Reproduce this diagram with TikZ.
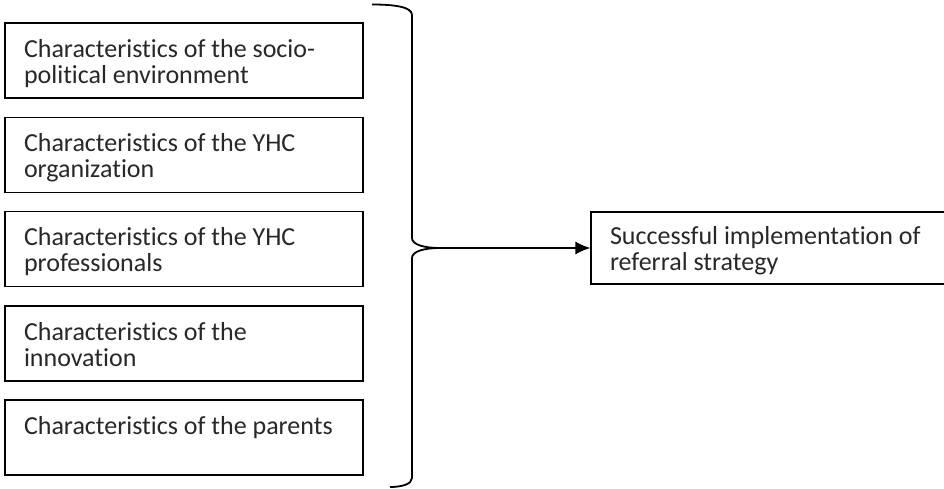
\documentclass[tikz,border=0pt]{standalone}
\usepackage{fontspec}
\setmainfont{Carlito}[Ligatures=NoCommon]
\usetikzlibrary{arrows.meta,positioning}
\definecolor{FwInk}{RGB}{0,0,0}
\definecolor{FwText}{RGB}{40,40,40}
\newcommand{\fwtext}[2][320pt]{\parbox[c][43pt][t]{#1}{\strut#2}}
\tikzset{
  fw/box/.style={
    draw=FwInk,
    line width=1.3pt,
    fill=white,
    align=left,
    text=FwText,
    minimum width=358pt,
    minimum height=75pt,
    inner xsep=19pt,
    inner ysep=0pt,
    font=\fontsize{26}{24.5}\selectfont
  },
  fw/result/.style={
    fw/box,
    minimum width=500pt,
    minimum height=72pt,
    inner xsep=19pt
  },
  fw/brace/.style={line width=1.8pt, draw=FwInk},
  fw/arrow/.style={-{Latex[length=15pt,width=13pt]}, line width=1.3pt, draw=FwInk}
}
\begin{document}
\begin{tikzpicture}[x=1pt,y=-1pt]
  \useasboundingbox (0,0) rectangle (944,489);
  \clip (0,0) rectangle (944,489);
  % determinants
  \node[fw/box] (env) at (184,60.5) {\fwtext{Characteristics of the socio-\\political environment}};
  \node[fw/box] (org) at (184,155) {\fwtext{Characteristics of the YHC\\organization}};
  \node[fw/box] (prof) at (184,249) {\fwtext{Characteristics of the YHC\\professionals}};
  \node[fw/box] (innov) at (184,343.5) {\fwtext{Characteristics of the\\innovation}};
  \node[fw/box] (parents) at (184,437.5) {\fwtext{Characteristics of the parents}};
  % outcome
  \node[fw/result] (outcome) at (841,248) {\fwtext[462pt]{Successful implementation of\\referral strategy}};
  % brace
  \coordinate (tip) at (440,248);
  \draw[fw/brace] (372,4.5) .. controls (395,4.5) and (412,7) .. (412,15) -- (412,238)
    .. controls (412,245) and (425,248) .. (tip)
    .. controls (425,248) and (412,251) .. (412,258) -- (412,478)
    .. controls (412,484) and (402,487) .. (390,487);
  \draw[fw/arrow] (tip) -- (outcome.west);
\end{tikzpicture}
\end{document}
